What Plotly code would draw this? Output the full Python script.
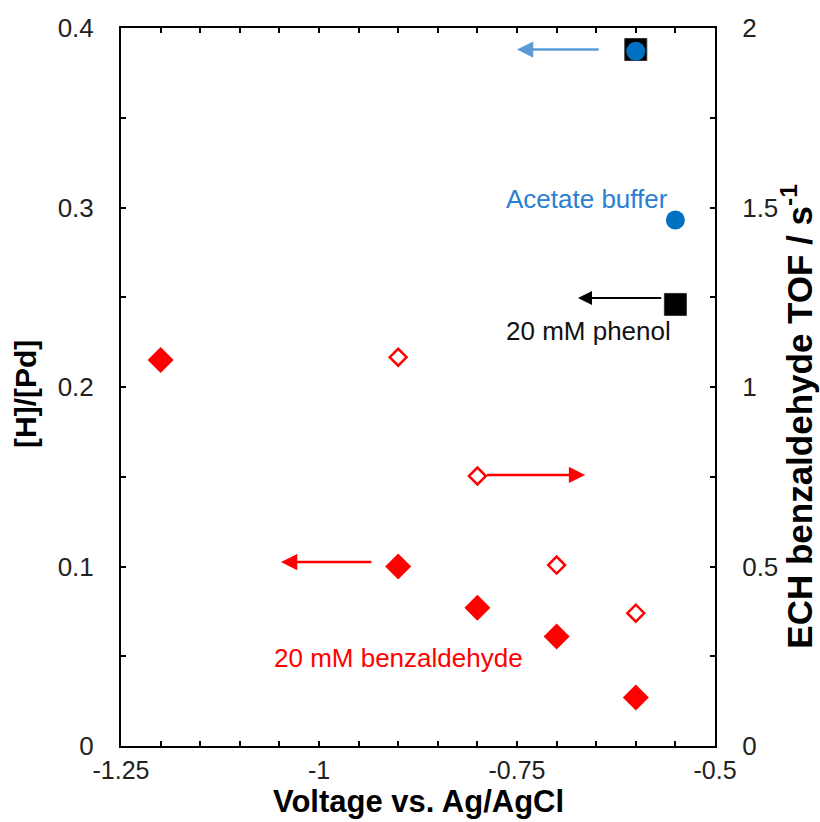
import plotly.graph_objects as go

# ---- data ----
benz_v = [-1.2, -0.9, -0.8, -0.7, -0.6]
benz_h_pd = [0.215, 0.100, 0.077, 0.061, 0.027]
benz_tof_v = [-0.9, -0.8, -0.7, -0.6]
benz_tof = [1.083, 0.752, 0.504, 0.370]
phenol_v = [-0.6, -0.55]
phenol_h_pd = [0.388, 0.246]
acetate_v = [-0.6, -0.55]
acetate_h_pd = [0.387, 0.293]

x_ticks = [-1.25, -1.0, -0.75, -0.5]
x_ticktext = ["-1.25", "-1", "-0.75", "-0.5"]
y1_ticks = [0, 0.1, 0.2, 0.3, 0.4]
y1_ticktext = ["0", "0.1", "0.2", "0.3", "0.4"]
y2_ticks = [0, 0.5, 1, 1.5, 2]
y2_ticktext = ["0", "0.5", "1", "1.5", "2"]

RED = "#FF0000"
BLUE = "#0070C0"
BLUE_TXT = "#2a80d2"
BLUE_ARROW = "#5B9BD5"
TICKFONT = dict(family="Liberation Sans, Arial, sans-serif", size=26, color="#222222")
TITLEFONT = dict(family="Liberation Sans, Arial, sans-serif", size=30, color="#000000")

fig = go.Figure()

fig.add_trace(go.Scatter(x=phenol_v, y=phenol_h_pd, mode="markers",
                         marker=dict(symbol="square", size=22, color="black",
                                     line=dict(color="#333", width=1)),
                         name="20 mM phenol"))
fig.add_trace(go.Scatter(x=acetate_v, y=acetate_h_pd, mode="markers",
                         marker=dict(symbol="circle", size=19, color=BLUE, line=dict(width=0)),
                         name="Acetate buffer"))
fig.add_trace(go.Scatter(x=benz_v, y=benz_h_pd, mode="markers",
                         marker=dict(symbol="diamond", size=20, color=RED, line=dict(width=0)),
                         name="20 mM benzaldehyde [H]/[Pd]"))
fig.add_trace(go.Scatter(x=benz_tof_v, y=benz_tof, mode="markers", yaxis="y2",
                         marker=dict(symbol="diamond-open", size=13, color=RED,
                                     line=dict(color=RED, width=2.5)),
                         name="20 mM benzaldehyde TOF"))

axis_common = dict(showline=True, linecolor="black", linewidth=2, ticks="inside",
                   ticklen=5, tickwidth=2, tickcolor="black", showgrid=False,
                   zeroline=False, tickfont=TICKFONT)

fig.update_layout(
    width=820, height=822,
    margin=dict(l=121, r=105, t=28, b=76),
    plot_bgcolor="white", paper_bgcolor="white",
    showlegend=False,
    xaxis=dict(range=[-1.25, -0.5], tickmode="array", tickvals=x_ticks, ticktext=x_ticktext,
               minor=dict(tickmode="linear", tick0=-1.25, dtick=0.05, ticks="inside",
                          ticklen=5, tickwidth=2, tickcolor="black"),
               mirror="ticks", ticklabelstandoff=1,
               **dict(axis_common, tickfont=dict(TICKFONT, size=25))),
    yaxis=dict(range=[0, 0.4], tickmode="array", tickvals=y1_ticks, ticktext=y1_ticktext,
               minor=dict(tickmode="linear", tick0=0, dtick=0.05, ticks="inside",
                          ticklen=5, tickwidth=2, tickcolor="black"),
               ticklabelstandoff=20, **axis_common),
    yaxis2=dict(range=[0, 2], overlaying="y", side="right", tickmode="array",
                tickvals=y2_ticks, ticktext=y2_ticktext,
                minor=dict(tickmode="linear", tick0=0, dtick=0.25, ticks="inside",
                           ticklen=5, tickwidth=2, tickcolor="black"),
                ticklabelstandoff=20, **axis_common),
)

# axis titles
fig.add_annotation(text="<b>Voltage vs. Ag/AgCl</b>", xref="paper", yref="paper",
                   x=0.5, y=-0.104, xanchor="center", yanchor="bottom", showarrow=False,
                   font=dict(TITLEFONT, size=31))
fig.add_annotation(text="<b>[H]/[Pd]</b>", xref="paper", yref="paper",
                   x=-0.162, y=0.49, xanchor="center", yanchor="middle", showarrow=False,
                   textangle=-90, font=TITLEFONT)
fig.add_annotation(text="<b>ECH benzaldehyde TOF / s<sup>-1</sup></b>", xref="paper", yref="paper",
                   x=1.138, y=0.46, xanchor="center", yanchor="middle", showarrow=False,
                   textangle=-90, font=dict(TITLEFONT, size=35))

# series labels
LABELFONT = dict(family="Liberation Sans, Arial, sans-serif", size=26)
fig.add_annotation(text="Acetate buffer", x=-0.661, y=0.305, xref="x", yref="y",
                   showarrow=False, font=dict(LABELFONT, color=BLUE_TXT))
fig.add_annotation(text="20 mM phenol", x=-0.660, y=0.231, xref="x", yref="y",
                   showarrow=False, font=dict(LABELFONT, color="#111111"))
fig.add_annotation(text="20 mM benzaldehyde", x=-0.900, y=0.049, xref="x", yref="y",
                   showarrow=False, font=dict(LABELFONT, color=RED))

# arrows pointing to the relevant axis
fig.add_annotation(x=-0.75, y=0.388, ax=-0.645, ay=0.388, xref="x", yref="y",
                   axref="x", ayref="y", text="", showarrow=True, arrowhead=2,
                   arrowsize=1.3, arrowwidth=2.5, arrowcolor=BLUE_ARROW, standoff=0)
fig.add_annotation(x=-0.673, y=0.2496, ax=-0.566, ay=0.2496, xref="x", yref="y",
                   axref="x", ayref="y", text="", showarrow=True, arrowhead=2,
                   arrowsize=1.4, arrowwidth=2, arrowcolor="black", standoff=0)
fig.add_annotation(x=-1.048, y=0.1025, ax=-0.932, ay=0.1025, xref="x", yref="y",
                   axref="x", ayref="y", text="", showarrow=True, arrowhead=2,
                   arrowsize=1.3, arrowwidth=2.5, arrowcolor=RED, standoff=0)
fig.add_annotation(x=-0.664, y=0.755, ax=-0.8, ay=0.755, xref="x", yref="y2",
                   axref="x", ayref="y2", text="", showarrow=True, arrowhead=2,
                   arrowsize=1.3, arrowwidth=2.5, arrowcolor=RED, standoff=0,
                   startstandoff=8)

fig.write_html("out.html")
